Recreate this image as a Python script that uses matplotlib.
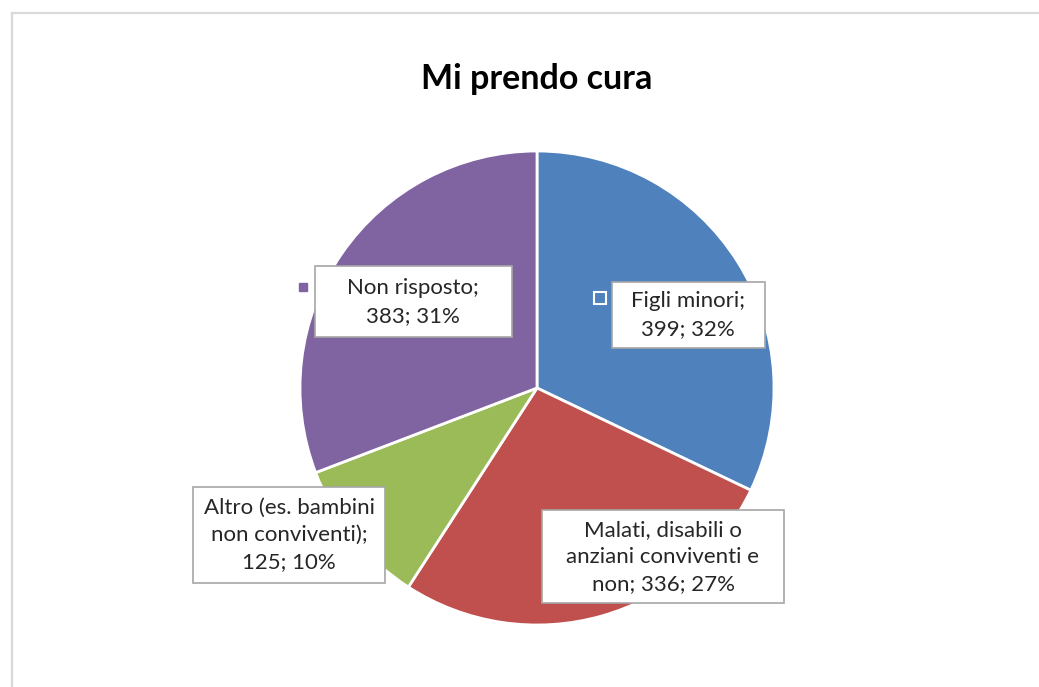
import matplotlib.pyplot as plt
from matplotlib.lines import Line2D
from matplotlib.patches import Rectangle

# data
categories = ['Figli minori', 'Malati, disabili o\nanziani conviventi e\nnon', 'Altro (es. bambini\nnon conviventi)', 'Non risposto']
values = [399, 336, 125, 383]
colors = ['#4F81BD', '#C0504D', '#9BBB59', '#8064A2']

# label boxes in pixels: centre x, centre y (from top), width, height
label_boxes = [(688, 315, 153, 66), (663, 557, 243, 93), (289, 535, 192, 96), (413, 302, 197, 71)]

plt.rcParams['font.family'] = ['Lato', 'DejaVu Sans']

W, H = 1039, 687
fig = plt.figure(figsize=(W / 100, H / 100), dpi=100)

# light frame of the chart area (only left and top visible)
fig.add_artist(Line2D([12 / W, 12 / W], [0, 1 - 13 / H], color='#d9d9d9', lw=1.6))
fig.add_artist(Line2D([12 / W, 1], [1 - 13 / H, 1 - 13 / H], color='#d9d9d9', lw=1.6))

cx, cy, r = 537, 388, 237
ax = fig.add_axes([(cx - r) / W, (H - cy - r) / H, 2 * r / W, 2 * r / H])
ax.pie(values, colors=colors, startangle=90, counterclock=False, radius=1,
       wedgeprops=dict(edgecolor='white', linewidth=2))
ax.set_xlim(-1, 1)
ax.set_ylim(-1, 1)
ax.set_aspect('equal')
ax.axis('off')

total = sum(values)
for cat, v, (bx, by, bw, bh) in zip(categories, values, label_boxes):
    pct = round(100 * v / total)
    txt = f'{cat}; {v}; {pct}%' if cat.endswith('non') else f'{cat};\n{v}; {pct}%'
    x, y = (bx - cx) / r, (cy - by) / r
    w, h = bw / r, bh / r
    ax.add_patch(Rectangle((x - w / 2, y - h / 2), w, h, facecolor='white',
                           edgecolor='#a6a6a6', lw=1.2, clip_on=False, zorder=3))
    ax.text(x, y, txt, ha='center', va='center', fontsize=16, color='#262626',
            linespacing=1.45, clip_on=False, zorder=4)

# small legend keys shown beside two of the labels
ax.plot(-0.986, 0.427, marker='s', ms=6, color=colors[3], clip_on=False)
ax.plot(0.266, 0.380, marker='s', ms=8, color=colors[0], mec='white', mew=1.5, clip_on=False)

fig.text(cx / W, 1 - 79 / H, 'Mi prendo cura', ha='center', va='center',
         fontsize=24.5, fontweight='bold', color='black')

fig.savefig('out.png', dpi=100)
